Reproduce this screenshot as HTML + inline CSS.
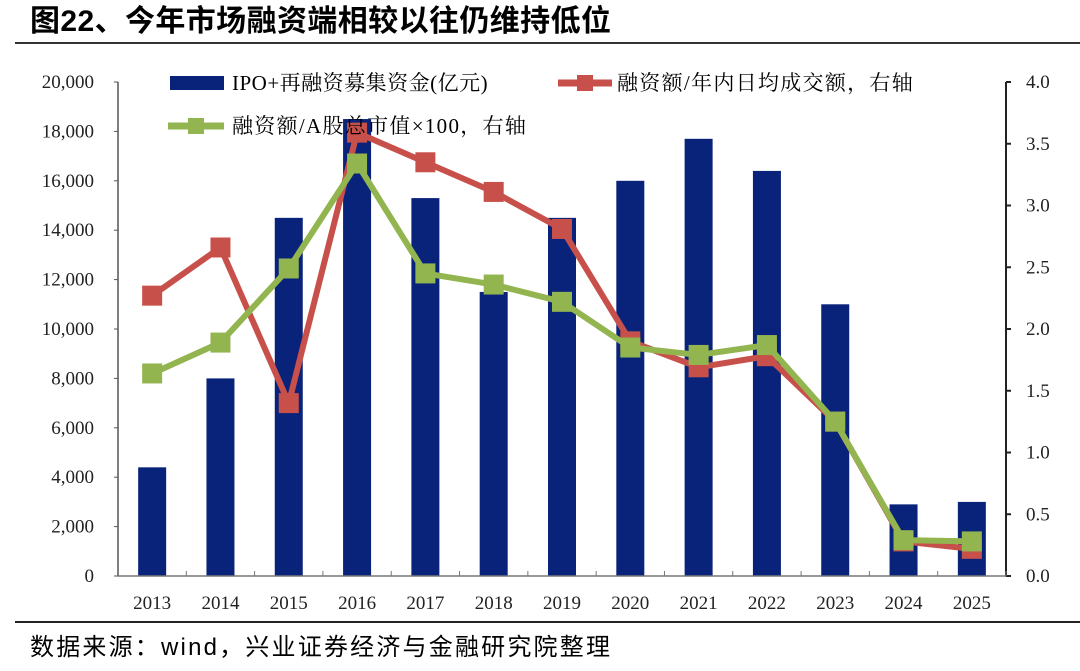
<!DOCTYPE html>
<html><head><meta charset="utf-8"><style>
body{margin:0;background:#fff;}
svg text{font-family:"Liberation Serif","Noto Serif CJK SC",serif;}
</style></head><body>
<svg width="1080" height="666" xmlns="http://www.w3.org/2000/svg" id="chart">
<text x="30" y="31" font-size="30" font-weight="bold" letter-spacing="0.4" style="font-family:'Liberation Sans','Noto Sans CJK SC',sans-serif">图22、今年市场融资端相较以往仍维持低位</text>
<line x1="15" y1="43" x2="1080" y2="43" stroke="#333" stroke-width="2"/>
<line x1="15" y1="622" x2="1080" y2="622" stroke="#222" stroke-width="2"/>
<text x="30" y="655" font-size="24" letter-spacing="2.2" style="font-family:'Liberation Sans','Noto Sans CJK SC',sans-serif">数据来源：wind，兴业证券经济与金融研究院整理</text>
<g id="plot"></g>
<g>
<rect x="170" y="76" width="54" height="14" fill="#0a237a"/>
<text x="232" y="90" font-size="21" letter-spacing="0.5">IPO+再融资募集资金(亿元)</text>
<line x1="558" y1="83" x2="612" y2="83" stroke="#c8504a" stroke-width="7"/>
<rect x="577" y="75" width="16" height="16" fill="#c8504a"/>
<text x="617" y="90" font-size="21" letter-spacing="1.3">融资额/年内日均成交额，右轴</text>
<line x1="168" y1="126" x2="224" y2="126" stroke="#92b550" stroke-width="7"/>
<rect x="188" y="118" width="16" height="16" fill="#92b550"/>
<text x="232" y="133" font-size="21" letter-spacing="1.3">融资额/A股总市值×100，右轴</text>
</g>
</svg>
<script>
const years=["2013","2014","2015","2016","2017","2018","2019","2020","2021","2022","2023","2024","2025"];
const fundraising=[4400,8000,14500,18500,15300,11500,14500,16000,17700,16400,11000,2900,3000];
const ratioTurnover=[2.27,2.66,1.40,3.59,3.35,3.11,2.81,1.90,1.69,1.78,1.25,0.28,0.22];
const ratioMktCap=[1.64,1.89,2.49,3.34,2.45,2.36,2.22,1.85,1.79,1.87,1.25,0.29,0.28];
const leftTicks=[0,2000,4000,6000,8000,10000,12000,14000,16000,18000,20000];
const rightTicks=[0,0.5,1.0,1.5,2.0,2.5,3.0,3.5,4.0];
const NS="http://www.w3.org/2000/svg";
const X0=118,X1=1006,Y0=576,Y1=82;
const bw=(X1-X0)/years.length;
const xC=i=>X0+bw*(i+0.5);
const yL=v=>Y0-(v/20000)*(Y0-Y1);
const yR=v=>Y0-(v/4)*(Y0-Y1);
const g=document.getElementById('plot');
function mk(t,a){const e=document.createElementNS(NS,t);for(const k in a)e.setAttribute(k,a[k]);g.appendChild(e);return e;}
fundraising.forEach((v,i)=>{
 const r=mk('rect',{x:xC(i)-14,y:yL(v),width:28,height:Y0-yL(v),fill:'#0a237a'});
 
 
});
let a=mk('line',{x1:X0,y1:Y1,x2:X0,y2:Y0,stroke:'#555','stroke-width':1.5});


a=mk('line',{x1:X1,y1:Y1,x2:X1,y2:Y0,stroke:'#222','stroke-width':2});


a=mk('line',{x1:X0,y1:Y0,x2:X1,y2:Y0,stroke:'#777','stroke-width':1.5});


leftTicks.forEach(v=>{
 mk('line',{x1:X0-4,y1:yL(v),x2:X0,y2:yL(v),stroke:'#555'});
 const t=mk('text',{x:X0-24,y:yL(v)+6,'font-size':19,'text-anchor':'end',fill:'#222'});
 t.textContent=v.toLocaleString('en-US');
 
 
});
rightTicks.forEach(v=>{
 mk('line',{x1:X1,y1:yR(v),x2:X1+5,y2:yR(v),stroke:'#222','stroke-width':2});
 const t=mk('text',{x:X1+20,y:yR(v)+6,'font-size':19,fill:'#222'});
 t.textContent=v.toFixed(1);
 
 
});
years.forEach((y,i)=>{
 mk('line',{x1:X0+bw*(i+1),y1:Y0,x2:X0+bw*(i+1),y2:Y0-5,stroke:'#777'});
 const t=mk('text',{x:xC(i),y:Y0+33,'font-size':19,'text-anchor':'middle',fill:'#222'});
 t.textContent=y;
 
 
});
function series(vals,col,name){
 const p=mk('polyline',{points:vals.map((v,i)=>xC(i)+','+yR(v)).join(' '),fill:'none',stroke:col,'stroke-width':6,'stroke-linejoin':'round'});
 
 
 vals.forEach((v,i)=>{
  const m=mk('rect',{x:xC(i)-10,y:yR(v)-10,width:20,height:20,fill:col});
  
  
 });
}
series(ratioTurnover,'#c8504a','turnover-ratio');
series(ratioMktCap,'#92b550','mktcap-ratio');
</script>
</body></html>
